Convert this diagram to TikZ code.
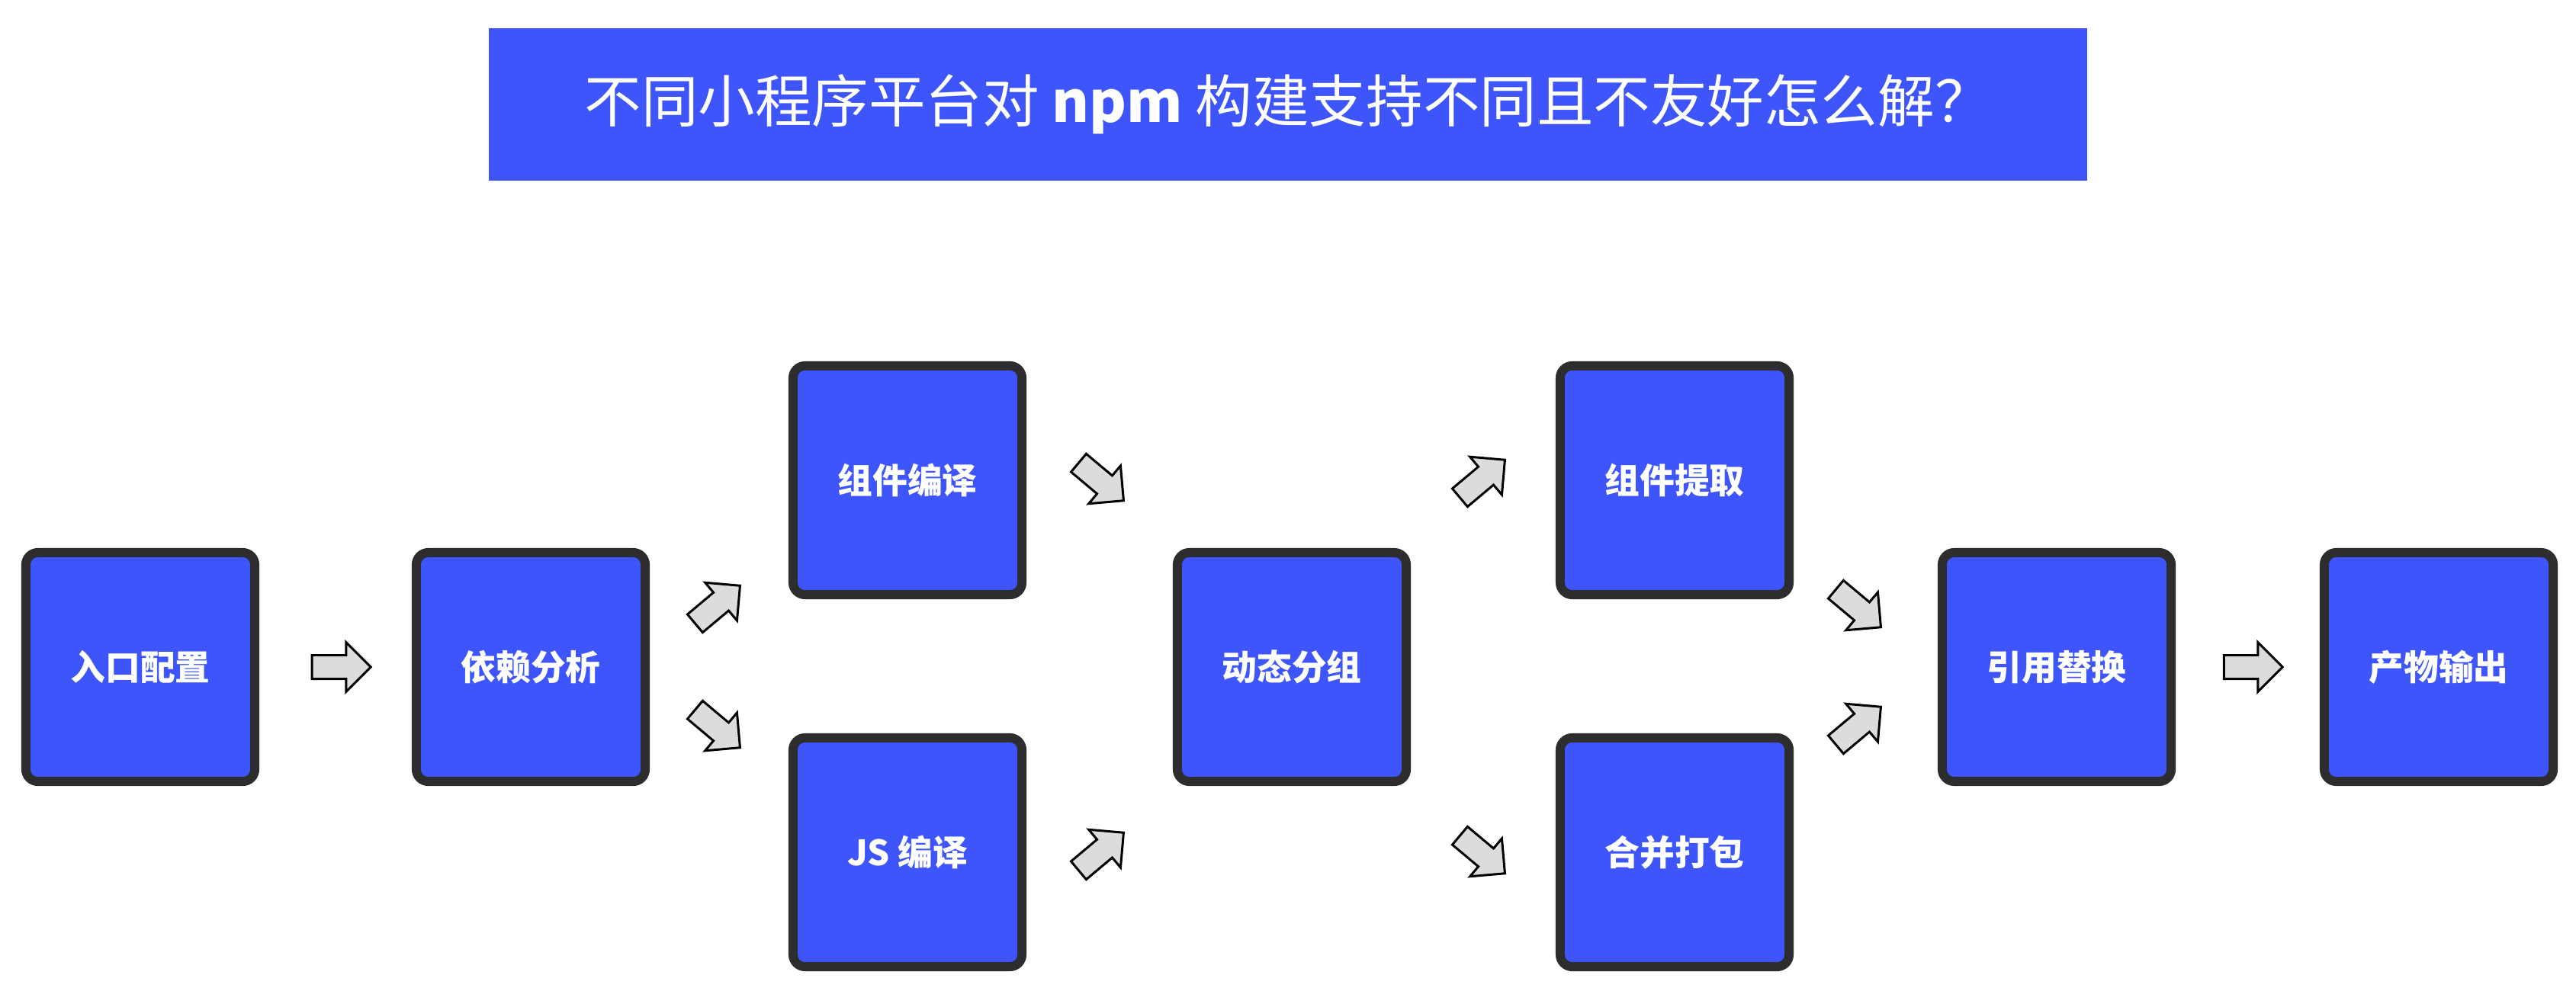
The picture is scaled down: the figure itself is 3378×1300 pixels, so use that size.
\documentclass[tikz,border=0pt]{standalone}
\usepackage{fontspec}
\usepackage{xcolor}
\usetikzlibrary{shapes.arrows}
\newfontfamily\cjkfont{Noto Sans CJK SC}
\definecolor{stageblue}{HTML}{3D55FB}
\definecolor{stageedge}{HTML}{2D2D30}
\definecolor{flowgrey}{HTML}{DCDCDC}

\begin{document}
\begin{tikzpicture}[
  x=0.01cm,
  y=-0.01cm,
  every node/.style={font=\cjkfont},
  banner/.style={fill=stageblue, minimum width=20.94cm, minimum height=2cm,
    inner sep=0pt, text=white, font=\cjkfont\fontsize{21.2}{25}\selectfont},
  stage/.style={draw=stageedge, fill=stageblue, line width=3.4pt,
    rounded corners=4.5pt, minimum width=3cm, minimum height=3cm,
    inner sep=0pt, text=white, font=\cjkfont\bfseries\fontsize{13}{16}\selectfont},
  flow/.style={single arrow, draw=black, fill=flowgrey, line width=0.85pt,
    minimum height=0.77cm, inner xsep=0pt, inner ysep=0.14cm,
    single arrow head extend=0.17cm}
]
  % ---- canvas ----------------------------------------------------------
  \fill[white] (0,0) rectangle (3378,1300);
  \useasboundingbox (0,0) rectangle (3378,1300);

  % ---- title -----------------------------------------------------------
  \node[banner] (title) at (1689,137)
    {\raisebox{-1.5pt}{不同小程序平台对 {\bfseries npm} 构建支持不同且不友好怎么解？}};

  % ---- stages ----------------------------------------------------------
  \node[stage] (entry)   at (184,875)  {入口配置};
  \node[stage] (deps)    at (696,875)  {依赖分析};
  \node[stage] (compc)   at (1190,630) {组件编译};
  \node[stage] (compjs)  at (1190,1118) {JS 编译};
  \node[stage] (group)   at (1694,875) {动态分组};
  \node[stage] (extract) at (2196,630) {组件提取};
  \node[stage] (bundle)  at (2196,1118) {合并打包};
  \node[stage] (replace) at (2697,875) {引用替换};
  \node[stage] (output)  at (3198,875) {产物输出};

  % ---- block arrows between stages -------------------------------------
  \node[flow] (f1)  at (440,875)  {};
  \node[flow, rotate=40]  (f2) at (935,798)  {};
  \node[flow, rotate=-40] (f3) at (935,951)  {};
  \node[flow, rotate=-40] (f4) at (1438,627) {};
  \node[flow, rotate=40]  (f5) at (1438,1122) {};
  \node[flow, rotate=40]  (f6) at (1938,633) {};
  \node[flow, rotate=-40] (f7) at (1938,1116) {};
  \node[flow, rotate=-40] (f8) at (2431,793) {};
  \node[flow, rotate=40]  (f9) at (2431,957) {};
  \node[flow] (f10) at (2947,875) {};
\end{tikzpicture}
\end{document}
